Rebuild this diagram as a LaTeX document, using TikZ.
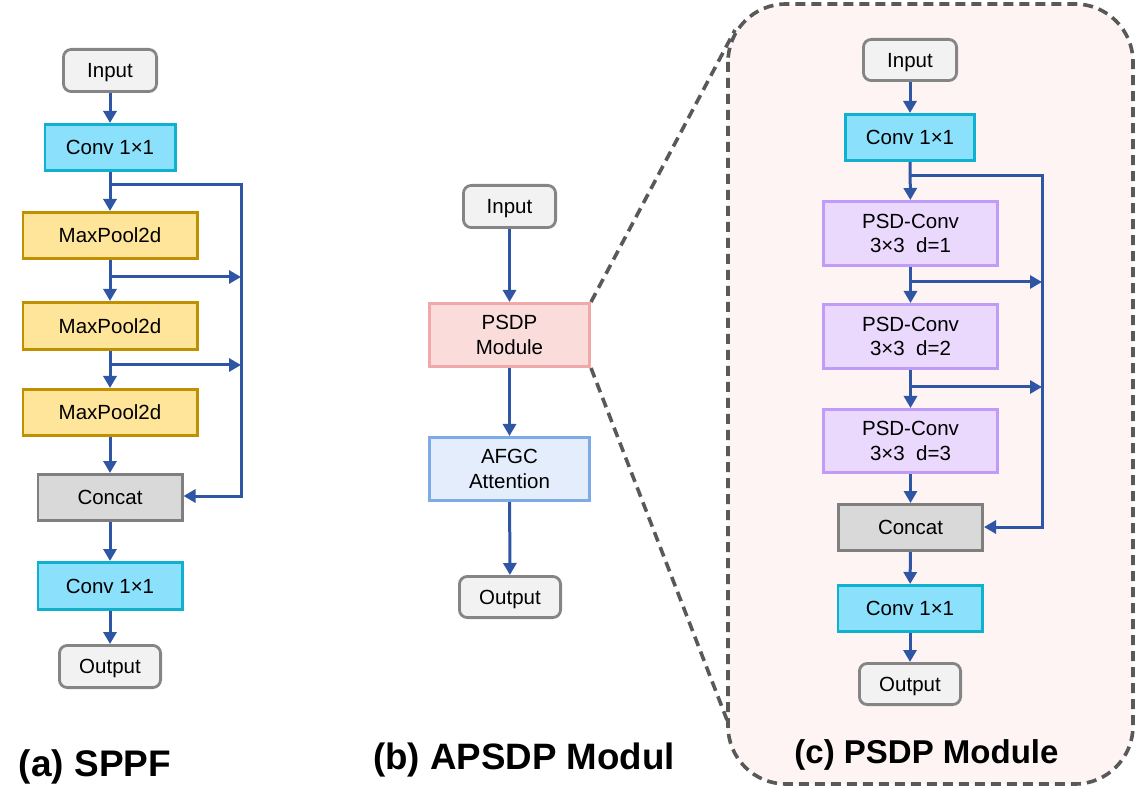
\documentclass[tikz,border=0pt]{standalone}
\usepackage{fontspec}
\setmainfont{Liberation Sans}
\usetikzlibrary{arrows.meta}
\definecolor{arrowblue}{RGB}{47,85,165}
\definecolor{iofill}{RGB}{242,242,242}
\definecolor{iodraw}{RGB}{133,133,133}
\definecolor{convfill}{RGB}{139,224,252}
\definecolor{convdraw}{RGB}{16,176,207}
\definecolor{mpfill}{RGB}{254,229,153}
\definecolor{mpdraw}{RGB}{191,144,0}
\definecolor{catfill}{RGB}{217,217,217}
\definecolor{catdraw}{RGB}{127,127,127}
\definecolor{psdpfill}{RGB}{250,220,219}
\definecolor{psdpdraw}{RGB}{240,169,168}
\definecolor{afgcfill}{RGB}{227,237,251}
\definecolor{afgcdraw}{RGB}{126,170,230}
\definecolor{pcfill}{RGB}{234,217,253}
\definecolor{pcdraw}{RGB}{192,156,248}
\definecolor{contfill}{RGB}{254,244,244}
\definecolor{contdraw}{RGB}{89,89,89}
\tikzset{
  blk/.style={line width=2.8pt, inner sep=0pt, align=center, font=\fontsize{20.5}{24.5}\selectfont},
  one/.style={text height=14.7pt, text depth=0pt},
  iobox/.style={blk, one, fill=iofill, draw=iodraw, rounded corners=8pt},
  convbox/.style={blk, one, fill=convfill, draw=convdraw},
  mpbox/.style={blk, one, fill=mpfill, draw=mpdraw},
  catbox/.style={blk, one, fill=catfill, draw=catdraw},
  psdpbox/.style={blk, fill=psdpfill, draw=psdpdraw},
  afgcbox/.style={blk, fill=afgcfill, draw=afgcdraw},
  pcbox/.style={blk, fill=pcfill, draw=pcdraw},
  sz/.style 2 args={minimum width=#1pt-2.8pt, minimum height=#2pt-2.8pt},
  flow/.style={draw=arrowblue, line width=3pt, -{Triangle[length=12pt,width=13pt]}},
  zoomline/.style={draw=contdraw, line width=3.6pt, dash pattern=on 10pt off 6pt},
  caption/.style={anchor=base, font=\bfseries},
}
\begin{document}
\begin{tikzpicture}[x=1pt,y=-1pt]
\useasboundingbox (0,0) rectangle (1136,794);
% container (c)
\draw[zoomline, fill=contfill, rounded corners=58pt] (728,4) rectangle (1133,784);

% ---------- (a) SPPF ----------
\node[iobox, sz={96}{45}] (ain) at (110,70.5) {Input};
\node[convbox, sz={133}{49}] (aconv1) at (110,147.5) {Conv 1×1};
\node[mpbox, sz={177}{49}] (amp1) at (110,235.5) {MaxPool2d};
\node[mpbox, sz={177}{50}] (amp2) at (110,326) {MaxPool2d};
\node[mpbox, sz={177}{49}] (amp3) at (110,412.5) {MaxPool2d};
\node[catbox, sz={147}{49}] (acat) at (110,497.5) {Concat};
\node[convbox, sz={147}{50}] (aconv2) at (110,586) {Conv 1×1};
\node[iobox, sz={104}{45}] (aout) at (110,666.5) {Output};

\coordinate (ab0) at (110,185);
\coordinate (ab1) at (110,277);
\coordinate (ab2) at (110,365);
\coordinate (abt) at (241,185);
\coordinate (abb) at (241,496);
\coordinate (abr1) at (241,277);
\coordinate (abr2) at (241,365);

\draw[flow] (ain) -- (aconv1);
\draw[flow] (aconv1) -- (amp1);
\draw[flow] (amp1) -- (amp2);
\draw[flow] (amp2) -- (amp3);
\draw[flow] (amp3) -- (acat);
\draw[flow] (acat) -- (aconv2);
\draw[flow] (aconv2) -- (aout);
\draw[flow] (ab0) -- (abt) -- (abb) -- (acat.east |- abb);
\draw[flow] (ab1) -- (abr1);
\draw[flow] (ab2) -- (abr2);

\node[caption, font=\fontsize{37}{40}\bfseries\selectfont] (capa) at (95,776) {(a) SPPF};

% ---------- (b) APSDP ----------
\node[iobox, sz={95}{45}] (bin) at (509.5,206.5) {Input};
\node[psdpbox, sz={163}{66}] (bpsdp) at (509.5,335) {PSDP\\Module};
\node[afgcbox, sz={163}{66}] (bafgc) at (509.5,469) {AFGC\\Attention};
\node[iobox, sz={104}{44}] (bout) at (510,597) {Output};

\draw[flow] (bin) -- (bpsdp);
\draw[flow] (bpsdp) -- (bafgc);
\draw[flow] (bafgc) -- (bout);

\coordinate (zt) at (735,30);
\coordinate (zb) at (727,720);
\draw[zoomline] (bpsdp.north east) -- (zt);
\draw[zoomline] (bpsdp.south east) -- (zb);

\node[caption, font=\fontsize{36.7}{40}\bfseries\selectfont] (capb) at (524,769) {(b) APSDP Modul};

% ---------- (c) PSDP ----------
\node[iobox, sz={96}{44}] (cin) at (910,60) {Input};
\node[convbox, sz={132}{49}] (cconv1) at (910,137.5) {Conv 1×1};
\node[pcbox, sz={177}{67}] (cp1) at (910.5,233.5) {PSD-Conv\\3×3\ \ d=1};
\node[pcbox, sz={177}{67}] (cp2) at (910.5,336.5) {PSD-Conv\\3×3\ \ d=2};
\node[pcbox, sz={177}{66}] (cp3) at (910.5,441) {PSD-Conv\\3×3\ \ d=3};
\node[catbox, sz={147}{49}] (ccat) at (910.5,527.5) {Concat};
\node[convbox, sz={147}{49}] (cconv2) at (910,608.5) {Conv 1×1};
\node[iobox, sz={104}{44}] (cout) at (910,684) {Output};

\coordinate (cb0) at (910,176);
\coordinate (cb1) at (910,282);
\coordinate (cb2) at (910,387);
\coordinate (cbt) at (1042,176);
\coordinate (cbb) at (1042,527);
\coordinate (cbr1) at (1042,282);
\coordinate (cbr2) at (1042,387);

\draw[flow] (cin) -- (cconv1);
\draw[flow] (cconv1) -- (cp1);
\draw[flow] (cp1) -- (cp2);
\draw[flow] (cp2) -- (cp3);
\draw[flow] (cp3) -- (ccat);
\draw[flow] (ccat) -- (cconv2);
\draw[flow] (cconv2) -- (cout);
\draw[flow] (cb0) -- (cbt) -- (cbb) -- (ccat.east |- cbb);
\draw[flow] (cb1) -- (cbr1);
\draw[flow] (cb2) -- (cbr2);

\node[caption, font=\fontsize{33}{36}\bfseries\selectfont] (capc) at (926.5,763) {(c) PSDP Module};
\end{tikzpicture}
\end{document}
